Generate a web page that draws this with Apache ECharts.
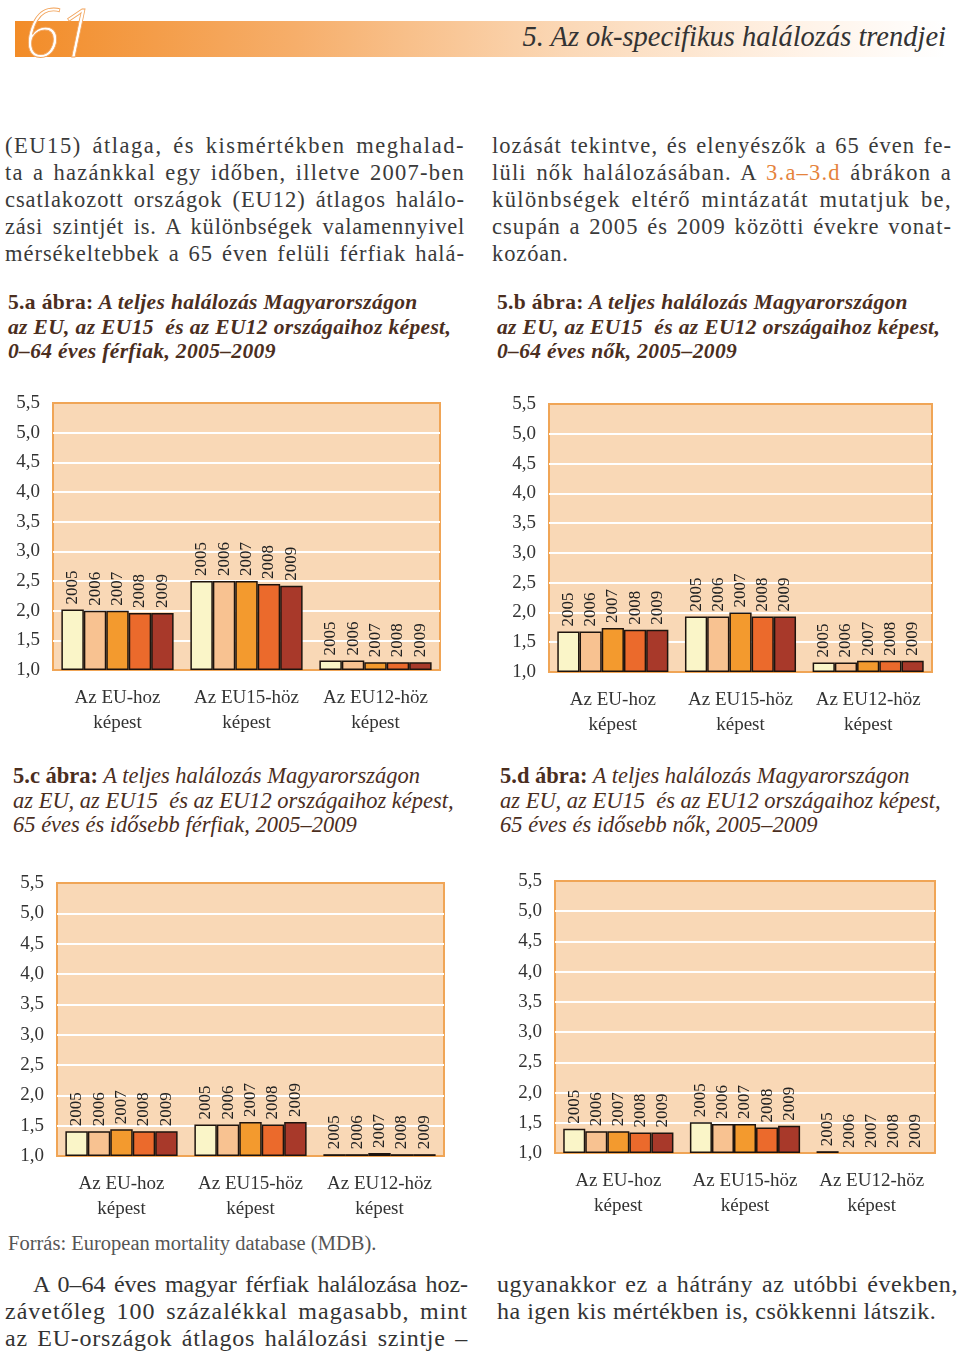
<!DOCTYPE html>
<html>
<head>
<meta charset="utf-8">
<script src="https://cdn.jsdelivr.net/npm/echarts@6/dist/echarts.min.js"></script>
<style>
  html, body { margin:0; padding:0; background:#fff; }
  #page { position:relative; width:960px; height:1355px; overflow:hidden; font-family:"Liberation Serif", serif; }
  #chart { position:absolute; left:0; top:0; width:960px; height:1355px; }
  .hdr { position:absolute; left:15px; top:21px; width:930px; height:36px;
         background:linear-gradient(to right, #F28C28 0%, #F6AE6A 30%, #FBD9B8 60%, #FFF3E8 85%, #ffffff 100%); }
  .pnum { position:absolute; left:24px; top:-14px; font-family:"Open Sans", sans-serif; font-style:italic; font-weight:300;
          font-size:66px; color:#fff; -webkit-text-stroke:0.8px #F2A35A; letter-spacing:-3px; }
  .title { position:absolute; right:14px; top:21px; font-style:italic; font-size:28.5px; color:#333; }
  .ln { position:absolute; height:27px; line-height:27px; font-size:22.5px; color:#3a3a3a; white-space:nowrap;
        text-align:justify; text-align-last:justify; }
  .nj { text-align:left !important; text-align-last:left !important; }
  .cap { position:absolute; line-height:24.5px; font-size:21.5px; letter-spacing:0.35px; color:#4B2E1E; font-style:italic; font-weight:bold; white-space:nowrap; }
  .cap b { font-style:normal; }
  .cap2 { position:absolute; line-height:24.5px; font-size:22.5px; color:#4B2E1E; font-style:italic; white-space:nowrap; letter-spacing:0px; }
  .cap2 b { font-style:normal; font-weight:bold; }
  .src { position:absolute; left:8px; top:1232px; font-size:20.5px; color:#555; letter-spacing:0px; }
  .ln2 { position:absolute; height:27px; line-height:27px; font-size:24px; color:#333; white-space:nowrap;
         text-align:justify; text-align-last:justify; }
  .orange { color:#E5833C; }
</style>
</head>
<body>
<div id="page">
  <div class="hdr"></div>
  <div class="pnum">61</div>
  <div class="title">5. Az ok-specifikus halálozás trendjei</div>

  <div class="ln" style="left:5px; top:132px; width:460px;">(EU15) átlaga, és kismértékben meghalad-</div>
  <div class="ln" style="left:5px; top:159px; width:460px;">ta a hazánkkal egy időben, illetve 2007-ben</div>
  <div class="ln" style="left:5px; top:186px; width:460px;">csatlakozott országok (EU12) átlagos halálo-</div>
  <div class="ln" style="left:5px; top:213px; width:460px;">zási szintjét is. A különbségek valamennyivel</div>
  <div class="ln" style="left:5px; top:240px; width:460px;">mérsékeltebbek a 65 éven felüli férfiak halá-</div>

  <div class="ln" style="left:492px; top:132px; width:460px;">lozását tekintve, és elenyészők a 65 éven fe-</div>
  <div class="ln" style="left:492px; top:159px; width:460px;">lüli nők halálozásában. A <span class="orange">3.a–3.d</span> ábrákon a</div>
  <div class="ln" style="left:492px; top:186px; width:460px;">különbségek eltérő mintázatát mutatjuk be,</div>
  <div class="ln" style="left:492px; top:213px; width:460px;">csupán a 2005 és 2009 közötti évekre vonat-</div>
  <div class="ln nj" style="left:492px; top:240px; width:460px;">kozóan.</div>

  <div class="cap" style="left:8px; top:290px;"><b>5.a ábra:</b> A teljes halálozás Magyarországon<br>az EU, az EU15&nbsp; és az EU12 országaihoz képest,<br>0–64 éves férfiak, 2005–2009</div>
  <div class="cap" style="left:497px; top:290px;"><b>5.b ábra:</b> A teljes halálozás Magyarországon<br>az EU, az EU15&nbsp; és az EU12 országaihoz képest,<br>0–64 éves nők, 2005–2009</div>

  <div class="cap2" style="left:13px; top:764px;"><b>5.c ábra:</b> A teljes halálozás Magyarországon<br>az EU, az EU15&nbsp; és az EU12 országaihoz képest,<br>65 éves és idősebb férfiak, 2005–2009</div>
  <div class="cap2" style="left:500px; top:764px;"><b>5.d ábra:</b> A teljes halálozás Magyarországon<br>az EU, az EU15&nbsp; és az EU12 országaihoz képest,<br>65 éves és idősebb nők, 2005–2009</div>

  <div class="src">Forrás: European mortality database (MDB).</div>

  <div class="ln2" style="left:33px; top:1271px; width:435px;">A 0–64 éves magyar férfiak halálozása hoz-</div>
  <div class="ln2" style="left:5px; top:1298px; width:463px;">závetőleg 100 százalékkal magasabb, mint</div>
  <div class="ln2" style="left:5px; top:1325px; width:463px;">az EU-országok átlagos halálozási szintje –</div>
  <div class="ln2" style="left:497px; top:1271px; width:461px;">ugyanakkor ez a hátrány az utóbbi években,</div>
  <div class="ln2 nj" style="left:497px; top:1298px; width:461px;">ha igen kis mértékben is, csökkenni látszik.</div>

  <div id="chart"></div>
</div>
<script>
// ---- data ----
const years = ['2005', '2006', '2007', '2008', '2009'];
const categories = ['Az EU-hoz\nképest', 'Az EU15-höz\nképest', 'Az EU12-höz\nképest'];
const yMin = 1.0, yMax = 5.5, yStep = 0.5;

// 5.a  0–64 éves férfiak
const a_EU   = [2.02, 2.00, 2.00, 1.96, 1.96];
const a_EU15 = [2.50, 2.50, 2.50, 2.45, 2.42];
const a_EU12 = [1.16, 1.16, 1.13, 1.13, 1.13];
// 5.b  0–64 éves nők
const b_EU   = [1.68, 1.68, 1.74, 1.71, 1.71];
const b_EU15 = [1.93, 1.93, 2.00, 1.93, 1.93];
const b_EU12 = [1.16, 1.16, 1.19, 1.19, 1.19];
// 5.c  65+ férfiak
const c_EU   = [1.41, 1.41, 1.44, 1.41, 1.41];
const c_EU15 = [1.52, 1.52, 1.56, 1.52, 1.56];
const c_EU12 = [1.03, 1.03, 1.05, 1.03, 1.03];
// 5.d  65+ nők
const d_EU   = [1.40, 1.36, 1.36, 1.34, 1.34];
const d_EU15 = [1.51, 1.48, 1.48, 1.42, 1.45];
const d_EU12 = [1.03, 1.00, 1.00, 1.00, 1.00];

const yearColors = ['#FAF5C8', '#F8C291', '#F39A2E', '#EB6A2C', '#A8392A'];

// ---- text fitting (layout only): letter spacing so lines fill their column like the print ----
(function fitLines() {
  const ctx = document.createElement('canvas').getContext('2d');
  document.querySelectorAll('.ln, .ln2').forEach(el => {
    const cs = getComputedStyle(el);
    ctx.font = cs.fontStyle + ' ' + cs.fontWeight + ' ' + cs.fontSize + ' ' + cs.fontFamily;
    const txt = el.textContent;
    const w = ctx.measureText(txt).width;
    const target = parseFloat(el.style.width) - 14;
    let ls = (target - w) / txt.length;
    if (el.classList.contains('nj')) ls = el.classList.contains('ln2') ? 0.5 : 0.9;
    ls = Math.max(-0.6, Math.min(1.6, ls));
    el.style.letterSpacing = ls.toFixed(2) + 'px';
  });
})();

const panels = [
  { groups: [a_EU, a_EU15, a_EU12], grid: { left: 53, top: 403, width: 387, height: 267 } },
  { groups: [b_EU, b_EU15, b_EU12], grid: { left: 549, top: 404, width: 383, height: 268 } },
  { groups: [c_EU, c_EU15, c_EU12], grid: { left: 57, top: 883, width: 387, height: 273 } },
  { groups: [d_EU, d_EU15, d_EU12], grid: { left: 555, top: 881, width: 380, height: 272 } }
];

const grids = [], xAxes = [], yAxes = [], series = [];
panels.forEach((p, k) => {
  grids.push(Object.assign({
    show: true, backgroundColor: '#F9D8B6', borderColor: '#F0A556', borderWidth: 2, containLabel: false
  }, p.grid));
  xAxes.push({
    type: 'category', gridIndex: k, data: categories,
    axisLine: { show: false }, axisTick: { show: false },
    axisLabel: { fontFamily: 'Liberation Serif', fontSize: 19, lineHeight: 25, color: '#333', margin: 16, interval: 0 }
  });
  yAxes.push({
    type: 'value', gridIndex: k, min: yMin, max: yMax, interval: yStep, startValue: yMin,
    axisLine: { show: false }, axisTick: { show: false },
    splitLine: { show: true, showMinLine: false, showMaxLine: false, lineStyle: { color: '#ffffff', width: 2 } },
    axisLabel: { fontFamily: 'Liberation Serif', fontSize: 19, color: '#333', margin: 13,
      formatter: v => v.toFixed(1).replace('.', ',') }
  });
  years.forEach((yr, i) => {
    series.push({
      type: 'bar', name: yr, xAxisIndex: k, yAxisIndex: k, clip: false,
      data: p.groups.map(g => ({
        value: g[i],
        itemStyle: { borderWidth: g[i] > yMin ? 1.5 : 0 }
      })),
      barGap: '0%', barCategoryGap: '13%',
      itemStyle: { color: yearColors[i], borderColor: '#1e140e', borderWidth: 1.5 },
      label: { show: true, position: 'top', distance: 5, rotate: 90, align: 'left', verticalAlign: 'middle',
        formatter: yr, fontFamily: 'Liberation Serif', fontSize: 17, color: '#222' },
      animation: false
    });
  });
});

const chart = echarts.init(document.getElementById('chart'), null, { renderer: 'canvas' });
chart.setOption({ animation: false, grid: grids, xAxis: xAxes, yAxis: yAxes, series: series });
</script>
</body>
</html>
